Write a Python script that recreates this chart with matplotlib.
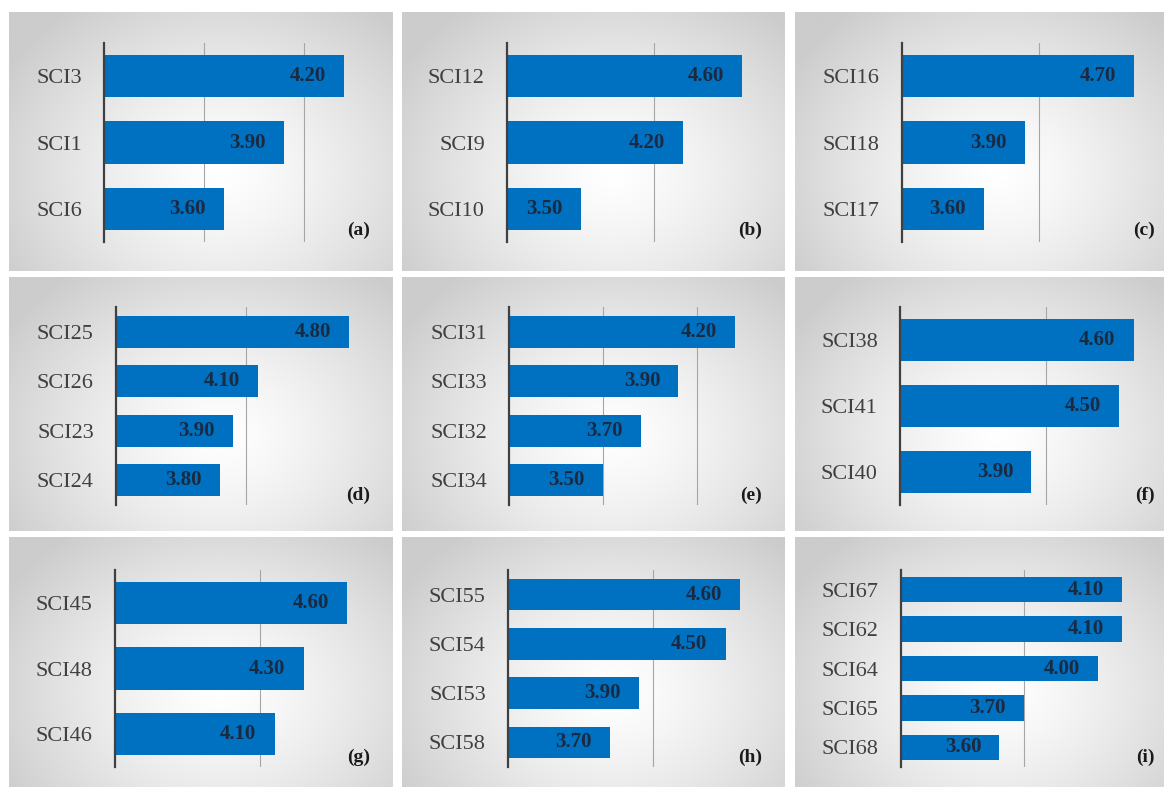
# Nine small horizontal bar panels, (a) .. (i)

import numpy as np
import matplotlib.pyplot as plt

# =========================================
# Data

labels_a = ['SCI3', 'SCI1', 'SCI6']
values_a = [4.20, 3.90, 3.60]

labels_b = ['SCI12', 'SCI9', 'SCI10']
values_b = [4.60, 4.20, 3.50]

labels_c = ['SCI16', 'SCI18', 'SCI17']
values_c = [4.70, 3.90, 3.60]

labels_d = ['SCI25', 'SCI26', 'SCI23', 'SCI24']
values_d = [4.80, 4.10, 3.90, 3.80]

labels_e = ['SCI31', 'SCI33', 'SCI32', 'SCI34']
values_e = [4.20, 3.90, 3.70, 3.50]

labels_f = ['SCI38', 'SCI41', 'SCI40']
values_f = [4.60, 4.50, 3.90]

labels_g = ['SCI45', 'SCI48', 'SCI46']
values_g = [4.60, 4.30, 4.10]

labels_h = ['SCI55', 'SCI54', 'SCI53', 'SCI58']
values_h = [4.60, 4.50, 3.90, 3.70]

labels_i = ['SCI67', 'SCI62', 'SCI64', 'SCI65', 'SCI68']
values_i = [4.10, 4.10, 4.00, 3.70, 3.60]

panel_tags = ['(a)', '(b)', '(c)', '(d)', '(e)', '(f)', '(g)', '(h)', '(i)']
panel_labels = [labels_a, labels_b, labels_c, labels_d, labels_e,
                labels_f, labels_g, labels_h, labels_i]
panel_values = [values_a, values_b, values_c, values_d, values_e,
                values_f, values_g, values_h, values_i]

# axis minimum and grid step of each panel
axis_min = [3.0, 3.0, 3.0, 3.0, 3.0, 3.0, 3.0, 3.0, 3.2]
grid_step = [0.5, 1.0, 1.0, 1.0, 0.5, 1.0, 1.0, 1.0, 0.5]

# =========================================
# Layout (pixels, measured from top-left)

W, H = 1164, 787
col_x = [(9, 392), (402, 785), (795, 1164)]
row_y = [(12, 271), (277, 531), (537, 787)]
plot_y = [(43, 242), (307, 505), (570, 767)]
# left edge, pixels per unit, right edge of each plot area
plot_x = [(104, 200, 380), (507, 147, 773), (902, 136.5, 1152),
          (116, 129.5, 370), (509, 188, 773), (900, 146, 1152),
          (115, 145, 380), (508, 145, 773), (901, 246, 1146)]
tag_x = [370, 762, 1155]
tag_y = [230, 495, 757]

BLUE = '#0070C0'
SERIF = 'Liberation Serif'


def rect(x0, x1, y0, y1):
    return [x0 / W, 1 - y1 / H, (x1 - x0) / W, (y1 - y0) / H]


# radial grey gradient used behind every panel
yy, xx = np.mgrid[0:1:260j, 0:1:380j]
r = np.hypot((xx - 0.55) / 0.65, (yy - 0.62) / 0.8)
shade = 1.0 - 0.2 * np.clip(r, 0, 1) ** 1.3
gradient = np.dstack([shade, shade, shade])

fig = plt.figure(figsize=(W / 100, H / 100), dpi=100)

for k in range(9):
    row, col = divmod(k, 3)
    x0, x1 = col_x[col]
    y0, y1 = row_y[row]

    # panel background
    bg = fig.add_axes(rect(x0, x1, y0, y1))
    bg.imshow(gradient, aspect='auto', extent=[0, 1, 0, 1], interpolation='bilinear')
    bg.set_axis_off()

    # bar chart
    left, unit, right = plot_x[k]
    py0, py1 = plot_y[row]
    ax = fig.add_axes(rect(left, right, py0, py1))
    ax.patch.set_alpha(0)

    labels = panel_labels[k]
    values = panel_values[k]
    n = len(labels)
    y = np.arange(n)
    xmin = axis_min[k]
    xmax = xmin + (right - left) / unit

    ax.barh(y, values, height=0.64, color=BLUE, zorder=2)
    ax.set_xlim(xmin, xmax)
    ax.set_ylim(n - 0.5, -0.5)

    ax.set_xticks(np.arange(xmin + grid_step[k], xmax, grid_step[k]))
    ax.xaxis.grid(True, color='#A6A6A6', linewidth=0.8)
    ax.set_axisbelow(True)
    ax.tick_params(axis='x', length=0, labelbottom=False)

    ax.set_yticks(y)
    ax.set_yticklabels(labels, fontsize=16, family=SERIF, color='#404040')
    ax.tick_params(axis='y', length=0, pad=16)

    for s in ['top', 'right', 'bottom']:
        ax.spines[s].set_visible(False)
    ax.spines['left'].set_color('#404040')
    ax.spines['left'].set_linewidth(1.6)
    ax.spines['left'].set_zorder(3)

    for yi, v in zip(y, values):
        ax.annotate(f'{v:.2f}', (v, yi), xytext=(-13, 0), textcoords='offset points',
                    ha='right', va='center', fontsize=15, fontweight='bold',
                    family=SERIF, color='#1B2A41', zorder=4)

    fig.text(tag_x[col] / W, 1 - tag_y[row] / H, panel_tags[k], ha='right', va='center',
             fontsize=14, fontweight='bold', family=SERIF, color='#1A1A1A')

plt.savefig('out.png', dpi=100)
